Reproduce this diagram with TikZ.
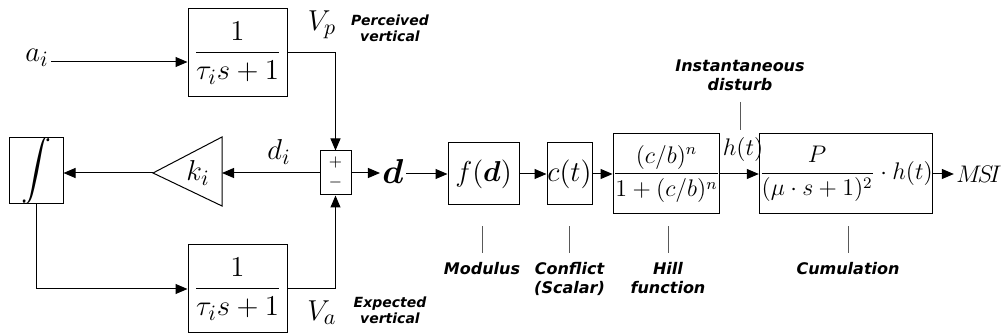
\documentclass[tikz,border=0pt]{standalone}
\usepackage{amsmath,amssymb}
\usepackage{bm}
\usepackage{fontspec}
\newfontfamily\notefont{DejaVu Sans}
\usetikzlibrary{arrows.meta,positioning,calc}

\begin{document}
\begin{tikzpicture}[
  x=0.5pt, y=-0.5pt,
  line width=0.5pt,
  >={Triangle[length=6pt,width=5pt]},
  blk/.style={draw, inner sep=0pt, align=center, font=\fontsize{15}{17}\selectfont},
  sblk/.style={blk, font=\fontsize{12}{14}\selectfont},
  sig/.style={inner sep=1pt, font=\fontsize{15}{17}\selectfont},
  ssig/.style={inner sep=1pt, font=\fontsize{12}{14}\selectfont},
  note/.style={font=\notefont\bfseries\itshape\fontsize{8}{9.6}\selectfont, align=center, inner sep=0pt},
  snote/.style={note, font=\notefont\bfseries\itshape\fontsize{7}{8}\selectfont},
  tick/.style={draw=black!65}
]
\useasboundingbox (0,0) rectangle (1005,335);
% loop of the vertical estimate
\node[blk, minimum width=49.5pt, minimum height=44pt] (tb) at (237.5,53) {$\dfrac{1}{\tau_i s+1}$};
\node[blk, minimum width=49.5pt, minimum height=44pt] (bb) at (237.5,289) {$\dfrac{1}{\tau_i s+1}$};
\node[blk, minimum width=27pt, minimum height=31.5pt] (int) at (36,170.5) {$\displaystyle\int$};
\node[draw, minimum width=15.5pt, minimum height=22pt, inner sep=0pt, align=center,
  font=\fontsize{8}{10}\selectfont] (sum) at (335.5,173) {$+$\\$-$};
\draw (222,137) -- (222,206) -- (153,173) -- cycle;
\coordinate (gin) at (222,173);
\coordinate (gout) at (153,173);
\node[sig] (k) at (198,173) {$k_i$};
\node[sig] (ai) at (37,58) {$a_i$};
\node[sig] (vp) at (322,25) {$V_p$};
\node[sig] (va) at (322,313) {$V_a$};
\node[sig] (di) at (279,152) {$d_i$};
\node[snote] (perc) at (390,28) {Perceived\\vertical};
\node[snote] (expc) at (390,310) {Expected\\vertical};
\draw[->] (ai.east |- 0,62) -- (tb.west |- 0,62);
\draw[->] (tb.east) -| (sum.north);
\draw[->] (bb.east) -| (sum.south);
\draw[->] (sum.west) -- (gin);
\draw[->] (gout) -- (gout -| int.east);
\draw[->] (int.south) |- (bb.west);
% chain to the sickness index
\node[sig, font=\fontsize{17}{19}\selectfont] (d) at (393,172) {$\bm{d}$};
\node[blk, minimum width=35.5pt, minimum height=31pt] (fd) at (483.5,174) {$f(\bm{d})$};
\node[blk, minimum width=22.5pt, minimum height=31pt] (ct) at (569.5,174) {$c(t)$};
\node[sblk, minimum width=50.5pt, minimum height=40pt] (hill) at (666.5,174) {$\dfrac{(c/b)^n}{1+(c/b)^n}$};
\node[sblk, minimum width=76pt, minimum height=40pt] (cum) at (846,174) {$\dfrac{P}{(\mu\cdot s+1)^2}\cdot h(t)$};
\node[ssig] (msi) at (979,174) {$M\!S\!I$};
\node[ssig] (ht) at (743,150) {$h(t)$};
\draw[->] (sum.east) -- (sum.east -| d.west);
\draw[->] (d.east |- fd.west) -- (fd.west);
\draw[->] (fd.east) -- (ct.west);
\draw[->] (ct.east) -- (hill.west);
\draw[->] (hill.east) -- (cum.west);
\draw[->] (cum.east) -- (msi.west);
% notes
\node[note, anchor=south] (inst) at (740,91) {Instantaneous\\disturb};
\node[note, anchor=north] (modl) at (482,262) {Modulus};
\node[note, anchor=north] (conf) at (569.5,262) {Conflict\\(Scalar)};
\node[note, anchor=north] (hilll) at (668,262) {Hill\\function};
\node[note, anchor=north] (cuml) at (848,262) {Cumulation};
\draw[tick] ([yshift=-5.5pt]inst.south) -- ++(0,28);
\draw[tick] ([yshift=4.5pt]modl.north) -- ++(0,-27);
\draw[tick] ([yshift=4.5pt]conf.north) -- ++(0,-27);
\draw[tick] ([yshift=4.5pt]hilll.north) -- ++(0,-27);
\draw[tick] ([yshift=4.5pt]cuml.north) -- ++(0,-27);
\end{tikzpicture}
\end{document}
